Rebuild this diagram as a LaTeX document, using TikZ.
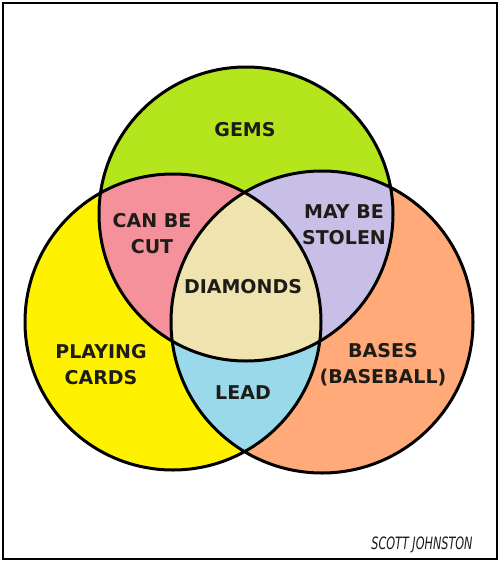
\documentclass[tikz,border=0pt]{standalone}
\usepackage{fontspec}
\setmainfont{DejaVu Sans}
\usepackage{xcolor}

\definecolor{gemgreen}{RGB}{181,230,29}
\definecolor{cardyellow}{RGB}{255,242,0}
\definecolor{baseorange}{RGB}{255,170,120}
\definecolor{cutpink}{RGB}{244,145,155}
\definecolor{stolenlilac}{RGB}{200,191,231}
\definecolor{diamondtan}{RGB}{239,228,176}
\definecolor{leadblue}{RGB}{153,217,234}
\definecolor{inkdark}{RGB}{30,28,24}

\begin{document}
\begin{tikzpicture}[x=1pt, y=-1pt,
    venntext/.style={font=\fontsize{19}{26}\selectfont\bfseries, text=inkdark, align=center, inner sep=0pt},
    signtext/.style={font=\fontsize{17}{17}\selectfont\itshape, text=inkdark, inner sep=0pt}]
            \useasboundingbox (0,0) rectangle (500,562);
            \def\gemset{(246,214) circle (147pt)}
            \def\cardset{(173,322) circle (148pt)}
            \def\baseset{(322,322) circle (151pt)}

            % --- Frame ---
            \fill[white] (0,0) rectangle (500,562);
            \draw[line width=2.4pt] (3,3) rectangle (497,559);

            % --- Single sets ---
            \fill[gemgreen] \gemset;
            \fill[cardyellow] \cardset;
            \fill[baseorange] \baseset;

            % --- Overlaps (pairs, then all three) ---
            \begin{scope}
                \clip \gemset;
                \fill[cutpink] \cardset;
                \fill[stolenlilac] \baseset;
            \end{scope}
            \begin{scope}
                \clip \cardset;
                \fill[leadblue] \baseset;
            \end{scope}
            \begin{scope}
                \clip \gemset;
                \clip \cardset;
                \fill[diamondtan] \baseset;
            \end{scope}

            % Outlines
            \draw[line width=3pt] \gemset \cardset \baseset;

            % --- Labels ---
            \node[venntext] (gems) at (245,130) {GEMS};
            \node[venntext] (cut) at (152,234) {CAN BE\\CUT};
            \node[venntext] (stolen) at (344,225) {MAY BE\\STOLEN};
            \node[venntext] (diamonds) at (243,287) {DIAMONDS};
            \node[venntext] (cards) at (101,365) {PLAYING\\CARDS};
            \node[venntext] (bases) at (383,365) {BASES\\(BASEBALL)};
            \node[venntext] (lead) at (243,393) {LEAD};

            \node[signtext] (artist) at (422,545) {\scalebox{0.66}[1]{SCOTT JOHNSTON}};
        \end{tikzpicture}
\end{document}
